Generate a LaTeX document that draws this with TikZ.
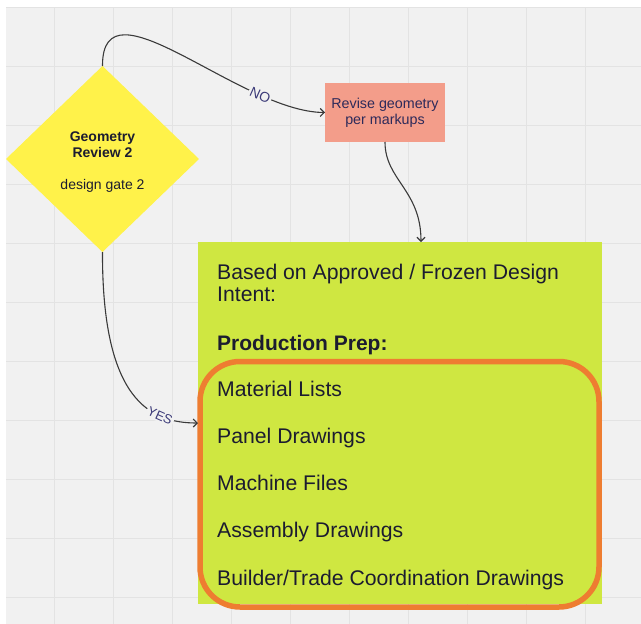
\documentclass[tikz,border=0pt]{standalone}
\usepackage{fontspec}
\setmainfont{Liberation Sans}
\usetikzlibrary{shapes.geometric,arrows.meta,calc}
\definecolor{bggray}{HTML}{F1F1F1}
\definecolor{gridgray}{HTML}{E3E3E3}
\definecolor{dyellow}{HTML}{FFF24A}
\definecolor{rpink}{HTML}{F39D8A}
\definecolor{bgreen}{HTML}{CFE741}
\definecolor{gorange}{HTML}{EE7D31}
\definecolor{inktext}{HTML}{1C1C30}
\definecolor{navytext}{HTML}{2D2A5A}
\definecolor{labeltext}{HTML}{3B3A78}
\definecolor{linegray}{HTML}{3A3A3A}
\begin{document}
\begin{tikzpicture}[x=1pt,y=-1pt,
  conn/.style={draw=linegray, line width=1.1pt, -{Straight Barb[length=4pt,width=8pt]}},
  edgelabel/.style={fill=bggray, inner sep=1.5pt, text=labeltext, sloped},
  itemtext/.style={anchor=base west, inner sep=0pt, text=inktext, font=\fontsize{21.2}{24}\selectfont},
]
\useasboundingbox (0,0) rectangle (641,624);
\fill[white] (0,0) rectangle (641,624);
\fill[bggray] (6,7) rectangle (641,624);
% grid
\foreach \gx in {54,113,172,231,290,349,408,467,526,585}
  \draw[gridgray, line width=1pt] (\gx,7) -- (\gx,624);
\foreach \gy in {7,66,125,184,243,302,361,420,479,538,597}
  \draw[gridgray, line width=1pt] (6,\gy) -- (641,\gy);

% green box
\node[draw=none, fill=bgreen, rectangle, minimum width=404pt, minimum height=362pt, inner sep=0pt, outer sep=0pt] (green) at (400,423) {};
% orange group outline
\node[draw=gorange, line width=5.5pt, rectangle, rounded corners=40pt, minimum width=399pt, minimum height=245.5pt, inner sep=0pt, outer sep=0pt] (group) at (399.5,484.25) {};

\begin{scope}
\clip (198,242) rectangle (602,589);
\node[itemtext] (t1) at (217,279) {Based on Approved / Frozen Design};
\node[itemtext] (t2) at (217,301.5) {Intent:};
\node[itemtext, font=\fontsize{21}{24}\selectfont\bfseries] (t3) at (217,350) {Production Prep:};
\node[itemtext] (t4) at (217,396.5) {Material Lists};
\node[itemtext] (t5) at (217,443.5) {Panel Drawings};
\node[itemtext] (t6) at (217,490.5) {Machine Files};
\node[itemtext] (t7) at (217,537.5) {Assembly Drawings};
\node[itemtext] (t8) at (217,585) {Builder/Trade Coordination Drawings};
\end{scope}

% decision diamond
\node[diamond, fill=dyellow, draw=none, minimum width=193pt, minimum height=186pt, inner sep=0pt, outer sep=0pt] (dia) at (102.5,159) {};
\node[align=center, text=inktext, font=\fontsize{14}{16}\selectfont, inner sep=0pt] (dtext) at (102.5,162.5)
  {{\bfseries Geometry}\\{\bfseries Review 2}\\[16pt]design gate 2};

% revise box
\node[rectangle, fill=rpink, minimum width=120pt, minimum height=59pt, inner sep=0pt, outer sep=0pt, align=center, text=navytext, font=\fontsize{14.3}{16}\selectfont] (rev) at (385,112.5) {Revise geometry\\per markups};

% connectors
\draw[conn] (dia.north) .. controls (102,-25) and (240,112) .. (rev.west)
  node[edgelabel, pos=0.77, font=\fontsize{14}{14}\selectfont] (nolab) {NO};
\draw[conn] (rev.south) .. controls (385,180) and (421,190) .. ($(green.north west)+(223,0)$);
\draw[conn] (dia.south) .. controls (102,400) and (150,423) .. (green.west)
  node[edgelabel, pos=0.73, font=\fontsize{13}{13}\selectfont] (yeslab) {YES};
\end{tikzpicture}
\end{document}
